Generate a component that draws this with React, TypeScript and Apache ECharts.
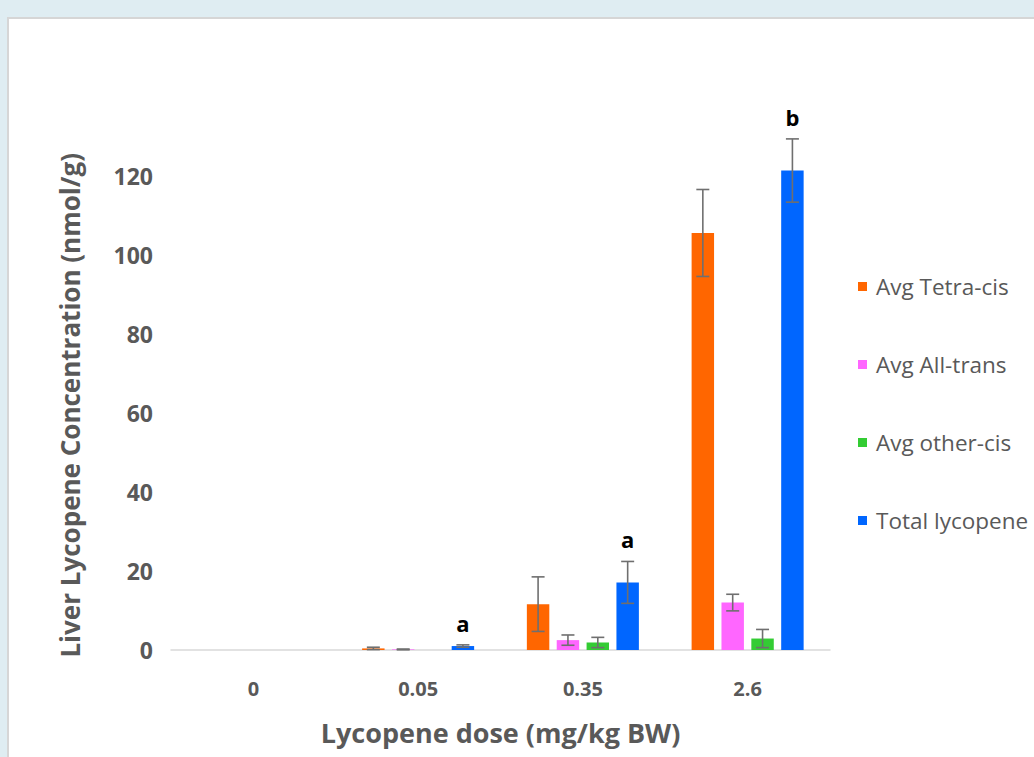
import React, { useEffect, useRef } from "react";
import * as echarts from "echarts";

const categories = ["0", "0.05", "0.35", "2.6"];
const seriesNames = ["Avg Tetra-cis", "Avg All-trans", "Avg other-cis", "Total lycopene"];
const colors = ["#ff6600", "#ff66ff", "#33cc33", "#0066ff"];

const tetraCis = [0, 0.4, 11.6, 105.5];
const tetraCisErr = [0, 0.3, 6.9, 11];
const allTrans = [0, 0.15, 2.5, 12.0];
const allTransErr = [0, 0.1, 1.3, 2.1];
const otherCis = [0, 0, 1.9, 2.9];
const otherCisErr = [0, 0, 1.3, 2.3];
const totalLyc = [0, 1.0, 17.1, 121.3];
const totalLycErr = [0, 0.3, 5.3, 8];
const totalLetters = ["", "a", "a", "b"];

const yTicks = [0, 20, 40, 60, 80, 100, 120, 140];

const values = [tetraCis, allTrans, otherCis, totalLyc];
const errors = [tetraCisErr, allTransErr, otherCisErr, totalLycErr];
const letters = [[], [], [], totalLetters];

const CAT_GAP = 0.32;
const BAR_GAP = 0.33;
const FONT = "'Open Sans', 'Noto Sans', sans-serif";

export default function App() {
  const ref = useRef<HTMLDivElement>(null);
  useEffect(() => {
    if (!ref.current) return;
    const chart = echarts.init(ref.current, undefined, { renderer: "svg" });
    const n = values.length;
    const barSeries = values.map((vals, s) => ({
      name: seriesNames[s],
      type: "bar",
      data: vals,
      itemStyle: { color: colors[s] },
      barGap: `${BAR_GAP * 100}%`,
      barCategoryGap: `${CAT_GAP * 100}%`,
      z: 2,
    }));
    const errSeries = values.map((vals, s) => ({
      type: "custom",
      name: seriesNames[s] + " err",
      z: 5,
      clip: false,
      data: vals.map((v, i) => [i, v, errors[s][i], i]),
      encode: { x: 0, y: 1 },
      renderItem: (params: any, api: any) => {
        const ci = api.value(0);
        const v = api.value(1);
        const e = api.value(2);
        const idx = api.value(3);
        const band = api.size([1, 0])[0];
        const usable = band * (1 - CAT_GAP);
        const w = usable / (n + (n - 1) * BAR_GAP);
        const cx = api.coord([ci, 0])[0] - usable / 2 + s * w * (1 + BAR_GAP) + w / 2;
        const children: any[] = [];
        const style = { stroke: "#6f6f6f", lineWidth: 1.6 };
        const top = api.coord([ci, v + e])[1];
        const bot = api.coord([ci, Math.max(0, v - e)])[1];
        const cap = 6.5;
        if (e > 0) {
          children.push({ type: "line", shape: { x1: cx, y1: top, x2: cx, y2: bot }, style });
          children.push({ type: "line", shape: { x1: cx - cap, y1: top, x2: cx + cap, y2: top }, style });
          children.push({ type: "line", shape: { x1: cx - cap, y1: bot, x2: cx + cap, y2: bot }, style });
        }
        const letter = letters[s][idx];
        if (letter) {
          children.push({
            type: "text",
            style: {
              text: letter,
              x: cx,
              y: top - 11,
              textAlign: "center",
              textVerticalAlign: "bottom",
              fill: "#000",
              font: `bold 22px ${FONT}`,
            },
          });
        }
        return { type: "group", children };
      },
      tooltip: { show: false },
    }));

    chart.setOption({
      animation: false,
      textStyle: { fontFamily: FONT },
      grid: { left: 171, width: 659, top: 96.6, height: 553.4, containLabel: false },
      legend: {
        data: seriesNames,
        orient: "vertical",
        left: 853,
        top: 270,
        itemWidth: 9,
        itemHeight: 9,
        itemGap: 55,
        icon: "rect",
        textStyle: { fontSize: 22.5, color: "#595959", fontFamily: FONT, padding: [0, 0, 0, 4] },
      },
      xAxis: {
        type: "category",
        data: categories,
        axisLine: { show: true, lineStyle: { color: "#d9d9d9", width: 1.5 } },
        axisTick: { show: false },
        axisLabel: { fontSize: 20, fontWeight: "bold", color: "#595959", margin: 28 },
        name: "Lycopene dose (mg/kg BW)",
        nameLocation: "middle",
        nameGap: 69,
        nameTextStyle: { fontSize: 27, fontWeight: "bold", color: "#595959" },
      },
      yAxis: {
        type: "value",
        min: 0,
        max: yTicks[yTicks.length - 1],
        interval: 20,
        splitLine: { show: false },
        axisLine: { show: false },
        axisTick: { show: false },
        axisLabel: {
          fontSize: 23,
          fontWeight: "bold",
          color: "#595959",
          margin: 18,
          showMaxLabel: false,
        },
        name: "Liver Lycopene Concentration (nmol/g)",
        nameLocation: "middle",
        nameGap: 88,
        nameTextStyle: { fontSize: 26, fontWeight: "bold", color: "#595959", padding: [0, 64, 0, 0] },
      },
      series: [...barSeries, ...errSeries],
    });
    return () => chart.dispose();
  }, []);

  return (
    <div style={{ position: "fixed", left: 0, top: 0, width: 1034, height: 757, background: "#dfedf2", overflow: "hidden" }}>
      <div
        style={{
          position: "absolute",
          left: 7,
          top: 17,
          width: 1100,
          height: 800,
          background: "#fff",
          borderLeft: "2px solid #d6d6d6",
          borderTop: "2px solid #d6d6d6",
        }}
      />
      <div ref={ref} style={{ position: "absolute", left: 0, top: 0, width: 1034, height: 757 }} />
    </div>
  );
}
